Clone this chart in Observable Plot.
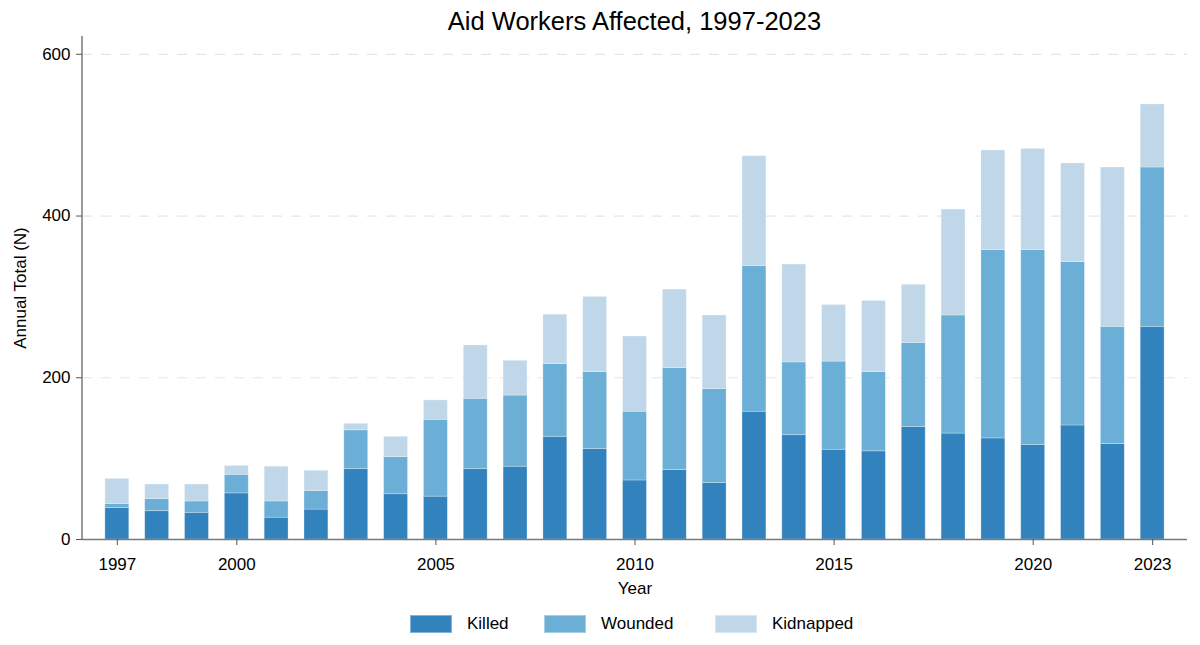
<!DOCTYPE html>
<html>
<head>
<meta charset="utf-8">
<script src="https://cdn.jsdelivr.net/npm/d3@7"></script>
<script src="https://cdn.jsdelivr.net/npm/@observablehq/plot@0.6"></script>
<style>
  html, body { margin: 0; padding: 0; background: #fff; }
  #wrap { position: relative; width: 1200px; height: 645px; font-family: "Liberation Sans", Arial, sans-serif; color: #000; }
  #title { position: absolute; left: 82px; width: 1105px; top: 9px; text-align: center; font-size: 25.5px; line-height: 25px; }
  .leg { position: absolute; top: 615px; height: 18px; display: flex; align-items: center; font-size: 17px; }
  .sw { width: 42px; height: 18px; box-sizing: border-box; margin-right: 15px; }
  #chart { position: absolute; left: 0; top: 0; }
</style>
</head>
<body>
<div id="wrap">
  <div id="chart"></div>
  <div id="title">Aid Workers Affected, 1997-2023</div>
  <div id="legend"></div>
</div>
<script>
const years = [1997,1998,1999,2000,2001,2002,2003,2004,2005,2006,2007,2008,2009,2010,2011,2012,2013,2014,2015,2016,2017,2018,2019,2020,2021,2022,2023];
const killed = [39,35,33,57,27,37,87,56,53,87,90,127,112,73,86,70,158,129,111,109,139,131,125,117,141,118,263];
const wounded = [5,15,14,23,20,23,48,46,95,87,88,90,95,85,126,116,180,90,109,98,104,146,233,241,202,145,197];
const kidnapped = [31,18,21,11,43,25,8,25,24,66,43,61,93,93,97,91,136,121,70,88,72,131,123,125,122,197,78];
const categories = ["Killed", "Wounded", "Kidnapped"];
const colors = ["#3182bd", "#6baed6", "#bfd7e8"];
const xTicks = [1997, 2000, 2005, 2010, 2015, 2020, 2023];
const yTicks = [0, 200, 400, 600];

const series = {Killed: killed, Wounded: wounded, Kidnapped: kidnapped};
const rows = [];
categories.forEach(c => years.forEach((y, i) => rows.push({year: y, type: c, value: series[c][i]})));

const font = "'Liberation Sans', Arial, sans-serif";

const yAxisLine = (index, scales, values, dims) => {
  const l = d3.create("svg:line")
    .attr("x1", dims.marginLeft).attr("x2", dims.marginLeft)
    .attr("y1", scales.y(622)).attr("y2", scales.y(0))
    .attr("stroke", "#7a7a7a").attr("stroke-width", 1.5);
  return l.node();
};

const plot = Plot.plot({
  width: 1200,
  height: 645,
  marginLeft: 82,
  marginRight: 13,
  marginTop: 36,
  marginBottom: 106,
  style: {fontFamily: font, fontSize: "17px", background: "white", color: "black"},
  x: {type: "band", domain: years, paddingInner: 0.4, paddingOuter: 0.575, round: false, axis: null},
  y: {domain: [0, 622], axis: null},
  color: {domain: categories, range: colors},
  marks: [
    Plot.gridY(yTicks.filter(d => d > 0), {stroke: "#e6e6e6", strokeOpacity: 1, strokeDasharray: "10,9", strokeWidth: 1.2}),
    Plot.barY(rows, Plot.stackY({order: categories}, {
      x: "year", y: "value", fill: "type",
      stroke: "white", strokeOpacity: 0.35, strokeWidth: 0.8
    })),
    Plot.ruleY([0], {stroke: "#7a7a7a", strokeWidth: 1.5}),
    yAxisLine,
    Plot.axisX({ticks: xTicks, tickFormat: d => String(d), tickSize: 6, tickPadding: 12, stroke: "#555", fill: "black", fontSize: 17, label: null}),
    Plot.axisY({ticks: yTicks, tickFormat: d => String(d), tickSize: 6, tickPadding: 6, stroke: "#555", fill: "black", fontSize: 17, label: null}),
    Plot.text(["Year"], {frameAnchor: "bottom", dy: 49, text: d => d, fontSize: 17, lineAnchor: "middle", fill: "black"}),
    Plot.text(["Annual Total (N)"], {frameAnchor: "left", dx: -61.5, rotate: -90, text: d => d, fontSize: 17, lineAnchor: "middle", textAnchor: "middle", fill: "black"})
  ]
});
document.getElementById("chart").appendChild(plot);

const legendLeft = [410, 544, 715];
const legend = document.getElementById("legend");
categories.forEach((c, i) => {
  const item = document.createElement("div");
  item.className = "leg";
  item.style.left = legendLeft[i] + "px";
  const sw = document.createElement("div");
  sw.className = "sw";
  sw.style.background = colors[i];
  sw.style.border = "1px solid rgba(255,255,255,0.4)";
  const tx = document.createElement("span");
  tx.textContent = c;
  item.appendChild(sw);
  item.appendChild(tx);
  legend.appendChild(item);
});
</script>
</body>
</html>
